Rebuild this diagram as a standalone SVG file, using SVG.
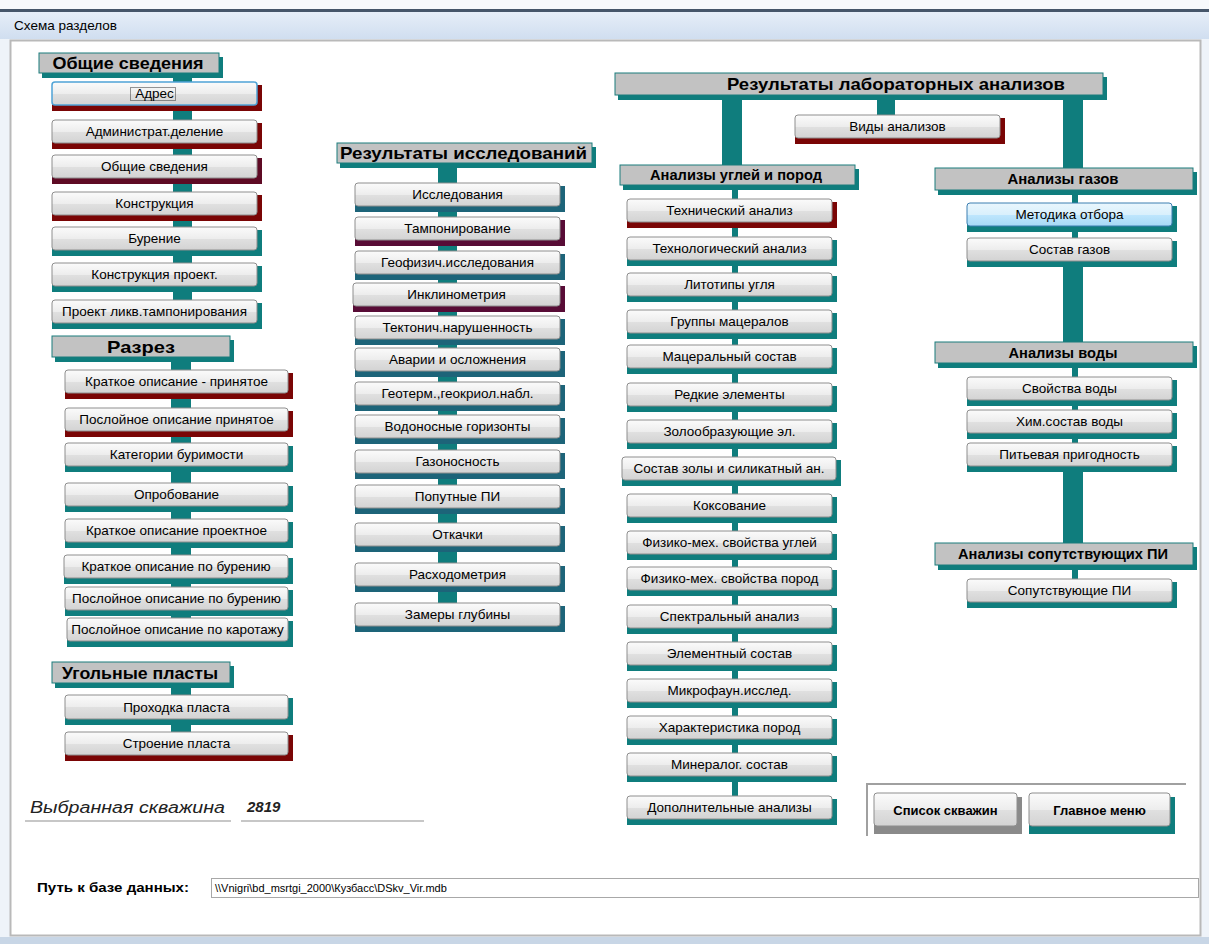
<svg xmlns="http://www.w3.org/2000/svg" width="1209" height="944" viewBox="0 0 1209 944">
<defs>
<linearGradient id="gBtn" x1="0" y1="0" x2="0" y2="1">
<stop offset="0" stop-color="#fbfbfb"/><stop offset="0.5" stop-color="#ededed"/><stop offset="0.52" stop-color="#e0e0e0"/><stop offset="1" stop-color="#d3d3d3"/>
</linearGradient>
<linearGradient id="gHot" x1="0" y1="0" x2="0" y2="1">
<stop offset="0" stop-color="#eaf6fd"/><stop offset="0.5" stop-color="#d9f0fc"/><stop offset="0.52" stop-color="#bee6fd"/><stop offset="1" stop-color="#a7d9f5"/>
</linearGradient>
<linearGradient id="gTitle" x1="0" y1="0" x2="0" y2="1">
<stop offset="0" stop-color="#e6eef8"/><stop offset="1" stop-color="#d0def0"/>
</linearGradient>
<style>
text{font-family:"Liberation Sans",Arial,sans-serif;fill:#000}
.t{font-size:13.5px;text-anchor:middle}
.h1{font-size:17px;font-weight:bold;text-anchor:middle}
.h2{font-size:14px;font-weight:bold;text-anchor:middle}
.tb{font-size:13px;font-weight:bold;text-anchor:middle}
.bt{fill:url(#gBtn);stroke:#8e8e8e;stroke-width:1}
.hot{fill:url(#gHot);stroke:#3c7fb1;stroke-width:1}
.hd{fill:#c2c2c2;stroke:#1a7d7d;stroke-width:1}
.sr{fill:#7a0505}
.sd{fill:#5e0a24}
.st{fill:#0f7d7d}
.sb{fill:#1d6479}
.sp{fill:#580c36}
.sg{fill:#8a8a8a}
.cn{fill:#0f7d7d}
</style>
</defs>

<!-- window frame -->
<rect x="0" y="0" width="1209" height="944" fill="#eef3f9"/>
<rect x="0" y="0" width="1209" height="9" fill="#f7f9fc"/>
<rect x="0" y="9" width="1209" height="3" fill="#46566a"/>
<rect x="0" y="12" width="1209" height="27" fill="url(#gTitle)"/>
<text x="14" y="30" style="font-size:13px" textLength="103" lengthAdjust="spacingAndGlyphs">Схема разделов</text>
<rect x="10.5" y="40.5" width="1190" height="895" fill="#ffffff" stroke="#b9b9b9" stroke-width="2"/>
<rect x="0" y="937" width="1209" height="7" fill="#c8d6e6"/>

<g id="connectors">
<rect class="cn" x="173" y="72" width="19" height="230"/>
<rect class="cn" x="171" y="357" width="20" height="263"/>
<rect class="cn" x="171" y="683" width="20" height="51"/>
<rect class="cn" x="438" y="163" width="19" height="442"/>
<rect class="cn" x="722" y="95" width="20" height="72"/>
<rect class="cn" x="877" y="95" width="18" height="22"/>
<rect class="cn" x="1063" y="95" width="20" height="75"/>
<rect class="cn" x="732" y="185" width="6" height="613"/>
<rect class="cn" x="1072" y="190" width="6" height="50"/>
<rect class="cn" x="1063" y="262" width="20" height="82"/>
<rect class="cn" x="1072" y="363" width="6" height="82"/>
<rect class="cn" x="1063" y="466" width="20" height="79"/>
<rect class="cn" x="1072" y="565" width="6" height="16"/>
</g>

<!-- Left column -->
<g id="h_obshchie"><rect class="st" x="42" y="57" width="181" height="21"/><rect class="hd" x="39" y="53" width="180" height="20"/><text class="h1" x="128" y="69" textLength="151" lengthAdjust="spacingAndGlyphs">Общие сведения</text></g>
<g id="b_adres"><rect class="sr" x="52" y="85" width="210" height="26"/><rect class="bt" x="52" y="82" width="205" height="23" rx="3" style="stroke:#4fa3d6;stroke-width:1.5"/><rect x="130.5" y="87.5" width="45" height="13" fill="none" stroke="#333" stroke-width="1" stroke-dasharray="1,1"/><text class="t" x="154.5" y="98">Адрес</text></g>
<g id="b_admin"><rect class="sr" x="52" y="123" width="210" height="26"/><rect class="bt" x="52" y="120" width="205" height="23" rx="3"/><text class="t" x="154.5" y="136">Администрат.деление</text></g>
<g id="b_obshchie"><rect class="sd" x="52" y="158" width="210" height="26"/><rect class="bt" x="52" y="155" width="205" height="23" rx="3"/><text class="t" x="154.5" y="171">Общие сведения</text></g>
<g id="b_konstr"><rect class="sr" x="52" y="195" width="210" height="26"/><rect class="bt" x="52" y="192" width="205" height="23" rx="3"/><text class="t" x="154.5" y="208">Конструкция</text></g>
<g id="b_burenie"><rect class="st" x="52" y="230" width="210" height="26"/><rect class="bt" x="52" y="227" width="205" height="23" rx="3"/><text class="t" x="154.5" y="243">Бурение</text></g>
<g id="b_konstr_pr"><rect class="st" x="52" y="266" width="210" height="26"/><rect class="bt" x="52" y="263" width="205" height="23" rx="3"/><text class="t" x="154.5" y="279">Конструкция проект.</text></g>
<g id="b_proekt"><rect class="st" x="52" y="303" width="210" height="26"/><rect class="bt" x="52" y="300" width="205" height="23" rx="3"/><text class="t" x="154.5" y="316">Проект ликв.тампонирования</text></g>

<g id="h_razrez"><rect class="st" x="55" y="340" width="179" height="22"/><rect class="hd" x="52" y="336" width="178" height="21"/><text class="h1" x="141" y="353" textLength="68" lengthAdjust="spacingAndGlyphs">Разрез</text></g>
<g id="b_kr_prin"><rect class="sr" x="65" y="373" width="228" height="26"/><rect class="bt" x="65" y="370" width="223" height="23" rx="3"/><text class="t" x="176.5" y="386">Краткое описание - принятое</text></g>
<g id="b_pos_prin"><rect class="sr" x="65" y="411" width="228" height="26"/><rect class="bt" x="65" y="408" width="223" height="23" rx="3"/><text class="t" x="176.5" y="424">Послойное описание принятое</text></g>
<g id="b_kateg"><rect class="st" x="65" y="446" width="228" height="26"/><rect class="bt" x="65" y="443" width="223" height="23" rx="3"/><text class="t" x="176.5" y="459">Категории буримости</text></g>
<g id="b_oprob"><rect class="st" x="65" y="486" width="228" height="26"/><rect class="bt" x="65" y="483" width="223" height="23" rx="3"/><text class="t" x="176.5" y="499">Опробование</text></g>
<g id="b_kr_proekt"><rect class="st" x="65" y="522" width="228" height="26"/><rect class="bt" x="65" y="519" width="223" height="23" rx="3"/><text class="t" x="176.5" y="535">Краткое описание проектное</text></g>
<g id="b_kr_bur"><rect class="st" x="64" y="558" width="229" height="26"/><rect class="bt" x="64" y="555" width="224" height="23" rx="3"/><text class="t" x="176" y="571">Краткое описание по бурению</text></g>
<g id="b_pos_bur"><rect class="st" x="65" y="590" width="228" height="26"/><rect class="bt" x="65" y="587" width="223" height="23" rx="3"/><text class="t" x="176.5" y="603">Послойное описание по бурению</text></g>
<g id="b_pos_kar"><rect class="st" x="67" y="621" width="226" height="26"/><rect class="bt" x="67" y="618" width="221" height="23" rx="3"/><text class="t" x="177.5" y="634">Послойное описание по каротажу</text></g>

<g id="h_ugol"><rect class="st" x="55" y="666" width="179" height="22"/><rect class="hd" x="52" y="662" width="178" height="21"/><text class="h1" x="140" y="679" textLength="156" lengthAdjust="spacingAndGlyphs">Угольные пласты</text></g>
<g id="b_prohod"><rect class="st" x="65" y="698" width="228" height="27"/><rect class="bt" x="65" y="695" width="223" height="24" rx="3"/><text class="t" x="176.5" y="712">Проходка пласта</text></g>
<g id="b_stroen"><rect class="sr" x="65" y="735" width="228" height="26"/><rect class="bt" x="65" y="732" width="223" height="23" rx="3"/><text class="t" x="176.5" y="748">Строение пласта</text></g>

<!-- Middle column -->
<g id="h_rez_issl"><rect class="st" x="340" y="147" width="256" height="21"/><rect class="hd" x="337" y="143" width="255" height="20"/><text class="h1" x="463.5" y="159" textLength="247" lengthAdjust="spacingAndGlyphs">Результаты исследований</text></g>
<g id="b_issl"><rect class="sb" x="355" y="186" width="210" height="26"/><rect class="bt" x="355" y="183" width="205" height="23" rx="3"/><text class="t" x="457.5" y="199">Исследования</text></g>
<g id="b_tampon"><rect class="sp" x="355" y="220" width="210" height="26"/><rect class="bt" x="355" y="217" width="205" height="23" rx="3"/><text class="t" x="457.5" y="233">Тампонирование</text></g>
<g id="b_geofiz"><rect class="sb" x="355" y="254" width="210" height="26"/><rect class="bt" x="355" y="251" width="205" height="23" rx="3"/><text class="t" x="457.5" y="267">Геофизич.исследования</text></g>
<g id="b_inklin"><rect class="sp" x="353" y="286" width="212" height="26"/><rect class="bt" x="353" y="283" width="207" height="23" rx="3"/><text class="t" x="456.5" y="299">Инклинометрия</text></g>
<g id="b_tekton"><rect class="sb" x="355" y="319" width="210" height="26"/><rect class="bt" x="355" y="316" width="205" height="23" rx="3"/><text class="t" x="457.5" y="332">Тектонич.нарушенность</text></g>
<g id="b_avarii"><rect class="sb" x="355" y="351" width="210" height="26"/><rect class="bt" x="355" y="348" width="205" height="23" rx="3"/><text class="t" x="457.5" y="364">Аварии и осложнения</text></g>
<g id="b_geoterm"><rect class="sb" x="355" y="385" width="210" height="26"/><rect class="bt" x="355" y="382" width="205" height="23" rx="3"/><text class="t" x="457.5" y="398">Геотерм.,геокриол.набл.</text></g>
<g id="b_vodon"><rect class="sb" x="355" y="418" width="210" height="26"/><rect class="bt" x="355" y="415" width="205" height="23" rx="3"/><text class="t" x="457.5" y="431">Водоносные горизонты</text></g>
<g id="b_gazon"><rect class="sb" x="355" y="453" width="210" height="26"/><rect class="bt" x="355" y="450" width="205" height="23" rx="3"/><text class="t" x="457.5" y="466">Газоносность</text></g>
<g id="b_poput"><rect class="sb" x="355" y="488" width="210" height="26"/><rect class="bt" x="355" y="485" width="205" height="23" rx="3"/><text class="t" x="457.5" y="501">Попутные ПИ</text></g>
<g id="b_otkachki"><rect class="sb" x="355" y="526" width="210" height="26"/><rect class="bt" x="355" y="523" width="205" height="23" rx="3"/><text class="t" x="457.5" y="539">Откачки</text></g>
<g id="b_rashod"><rect class="sb" x="355" y="566" width="210" height="26"/><rect class="bt" x="355" y="563" width="205" height="23" rx="3"/><text class="t" x="457.5" y="579">Расходометрия</text></g>
<g id="b_zamery"><rect class="sb" x="355" y="606" width="210" height="26"/><rect class="bt" x="355" y="603" width="205" height="23" rx="3"/><text class="t" x="457.5" y="619">Замеры глубины</text></g>

<!-- Lab analyses -->
<g id="h_lab"><rect class="st" x="618" y="77" width="489" height="23"/><rect class="hd" x="615" y="73" width="488" height="22"/><text x="727" y="90" style="font-size:17px;font-weight:bold" textLength="338" lengthAdjust="spacingAndGlyphs">Результаты лабораторных анализов</text></g>
<g id="b_vidy"><rect class="sr" x="795" y="118" width="210" height="26"/><rect class="bt" x="795" y="115" width="205" height="23" rx="3"/><text class="t" x="897.5" y="131">Виды анализов</text></g>

<g id="h_ugley"><rect class="st" x="623" y="169" width="236" height="21"/><rect class="hd" x="620" y="165" width="235" height="20"/><text class="h2" x="736" y="180" textLength="172" lengthAdjust="spacingAndGlyphs">Анализы углей и пород</text></g>
<g id="b_tehn"><rect class="sr" x="627" y="202" width="210" height="26"/><rect class="bt" x="627" y="199" width="205" height="23" rx="3"/><text class="t" x="729.5" y="215">Технический анализ</text></g>
<g id="b_tehnol"><rect class="st" x="627" y="240" width="210" height="26"/><rect class="bt" x="627" y="237" width="205" height="23" rx="3"/><text class="t" x="729.5" y="253">Технологический анализ</text></g>
<g id="b_litot"><rect class="st" x="627" y="276" width="210" height="26"/><rect class="bt" x="627" y="273" width="205" height="23" rx="3"/><text class="t" x="729.5" y="289">Литотипы угля</text></g>
<g id="b_gruppy"><rect class="st" x="627" y="313" width="210" height="26"/><rect class="bt" x="627" y="310" width="205" height="23" rx="3"/><text class="t" x="729.5" y="326">Группы мацералов</text></g>
<g id="b_macer"><rect class="st" x="627" y="348" width="210" height="26"/><rect class="bt" x="627" y="345" width="205" height="23" rx="3"/><text class="t" x="729.5" y="361">Мацеральный состав</text></g>
<g id="b_redkie"><rect class="st" x="627" y="386" width="210" height="26"/><rect class="bt" x="627" y="383" width="205" height="23" rx="3"/><text class="t" x="729.5" y="399">Редкие элементы</text></g>
<g id="b_zoloobr"><rect class="st" x="627" y="423" width="210" height="26"/><rect class="bt" x="627" y="420" width="205" height="23" rx="3"/><text class="t" x="729.5" y="436">Золообразующие эл.</text></g>
<g id="b_sostav_zoly"><rect class="st" x="622" y="460" width="219" height="26"/><rect class="bt" x="622" y="457" width="214" height="23" rx="3"/><text class="t" x="729" y="473">Состав золы и силикатный ан.</text></g>
<g id="b_koks"><rect class="st" x="627" y="497" width="210" height="26"/><rect class="bt" x="627" y="494" width="205" height="23" rx="3"/><text class="t" x="729.5" y="510">Коксование</text></g>
<g id="b_fm_ugl"><rect class="st" x="627" y="534" width="210" height="26"/><rect class="bt" x="627" y="531" width="205" height="23" rx="3"/><text class="t" x="729.5" y="547">Физико-мех. свойства углей</text></g>
<g id="b_fm_por"><rect class="st" x="627" y="570" width="210" height="26"/><rect class="bt" x="627" y="567" width="205" height="23" rx="3"/><text class="t" x="729.5" y="583">Физико-мех. свойства пород</text></g>
<g id="b_spektr"><rect class="st" x="627" y="608" width="210" height="26"/><rect class="bt" x="627" y="605" width="205" height="23" rx="3"/><text class="t" x="729.5" y="621">Спектральный анализ</text></g>
<g id="b_element"><rect class="st" x="627" y="645" width="210" height="26"/><rect class="bt" x="627" y="642" width="205" height="23" rx="3"/><text class="t" x="729.5" y="658">Элементный состав</text></g>
<g id="b_mikro"><rect class="st" x="627" y="682" width="210" height="26"/><rect class="bt" x="627" y="679" width="205" height="23" rx="3"/><text class="t" x="729.5" y="695">Микрофаун.исслед.</text></g>
<g id="b_harakt"><rect class="st" x="627" y="719" width="210" height="26"/><rect class="bt" x="627" y="716" width="205" height="23" rx="3"/><text class="t" x="729.5" y="732">Характеристика пород</text></g>
<g id="b_mineral"><rect class="st" x="627" y="756" width="210" height="26"/><rect class="bt" x="627" y="753" width="205" height="23" rx="3"/><text class="t" x="729.5" y="769">Минералог. состав</text></g>
<g id="b_dopoln"><rect class="st" x="627" y="799" width="210" height="26"/><rect class="bt" x="627" y="796" width="205" height="23" rx="3"/><text class="t" x="729.5" y="812">Дополнительные анализы</text></g>

<!-- Gas / water / PI -->
<g id="h_gazy"><rect class="st" x="938" y="172" width="259" height="23"/><rect class="hd" x="935" y="168" width="258" height="22"/><text class="h2" x="1063" y="184" textLength="111" lengthAdjust="spacingAndGlyphs">Анализы газов</text></g>
<g id="b_metod"><rect class="st" x="967" y="206" width="210" height="26"/><rect class="hot" x="967" y="203" width="205" height="23" rx="3"/><text class="t" x="1069.5" y="219">Методика отбора</text></g>
<g id="b_sost_gaz"><rect class="st" x="967" y="241" width="210" height="26"/><rect class="bt" x="967" y="238" width="205" height="23" rx="3"/><text class="t" x="1069.5" y="254">Состав газов</text></g>

<g id="h_voda"><rect class="st" x="938" y="346" width="259" height="22"/><rect class="hd" x="935" y="342" width="258" height="21"/><text class="h2" x="1063" y="358" textLength="109" lengthAdjust="spacingAndGlyphs">Анализы воды</text></g>
<g id="b_svoistva"><rect class="st" x="967" y="380" width="210" height="26"/><rect class="bt" x="967" y="377" width="205" height="23" rx="3"/><text class="t" x="1069.5" y="393">Свойства воды</text></g>
<g id="b_him"><rect class="st" x="967" y="413" width="210" height="26"/><rect class="bt" x="967" y="410" width="205" height="23" rx="3"/><text class="t" x="1069.5" y="426">Хим.состав воды</text></g>
<g id="b_pitev"><rect class="st" x="967" y="446" width="210" height="26"/><rect class="bt" x="967" y="443" width="205" height="23" rx="3"/><text class="t" x="1069.5" y="459">Питьевая пригодность</text></g>

<g id="h_soput"><rect class="st" x="938" y="547" width="259" height="23"/><rect class="hd" x="935" y="543" width="258" height="22"/><text class="h2" x="1063" y="559" textLength="210" lengthAdjust="spacingAndGlyphs">Анализы сопутствующих ПИ</text></g>
<g id="b_soput"><rect class="st" x="967" y="582" width="210" height="26"/><rect class="bt" x="967" y="579" width="205" height="23" rx="3"/><text class="t" x="1069.5" y="595">Сопутствующие ПИ</text></g>

<!-- Bottom controls -->
<g id="frame_buttons"><path d="M867 836 V784 H1186" fill="none" stroke="#a0a0a0" stroke-width="2"/></g>
<g id="b_spisok"><rect class="sg" x="874" y="797" width="148" height="37"/><rect class="bt" x="874" y="793" width="143" height="33" rx="3"/><text class="tb" x="945.5" y="815">Список скважин</text></g>
<g id="b_glavnoe"><rect class="st" x="1029" y="797" width="146" height="37"/><rect class="bt" x="1029" y="793" width="141" height="33" rx="3"/><text class="tb" x="1099.5" y="815">Главное меню</text></g>

<g id="selected_well">
<text x="30" y="813" style="font-size:16px;font-style:italic;fill:#222" textLength="195" lengthAdjust="spacingAndGlyphs">Выбранная скважина</text>
<line x1="25" y1="821" x2="231" y2="821" stroke="#b5b5b5" stroke-width="1.5"/>
<text x="247" y="812" style="font-size:15px;font-style:italic;font-weight:bold;fill:#222">2819</text>
<line x1="241" y1="821" x2="424" y2="821" stroke="#b5b5b5" stroke-width="1.5"/>
</g>

<g id="db_path">
<text x="37" y="892" style="font-size:12px;font-weight:bold" textLength="152" lengthAdjust="spacingAndGlyphs">Путь к базе данных:</text>
<rect x="211.5" y="878.5" width="987" height="19" fill="#ffffff" stroke="#a8a8a8" stroke-width="1"/>
<text x="215" y="892" style="font-size:11px">\\Vnigri\bd_msrtgi_2000\Кузбасс\DSkv_Vir.mdb</text>
</g>
</svg>
